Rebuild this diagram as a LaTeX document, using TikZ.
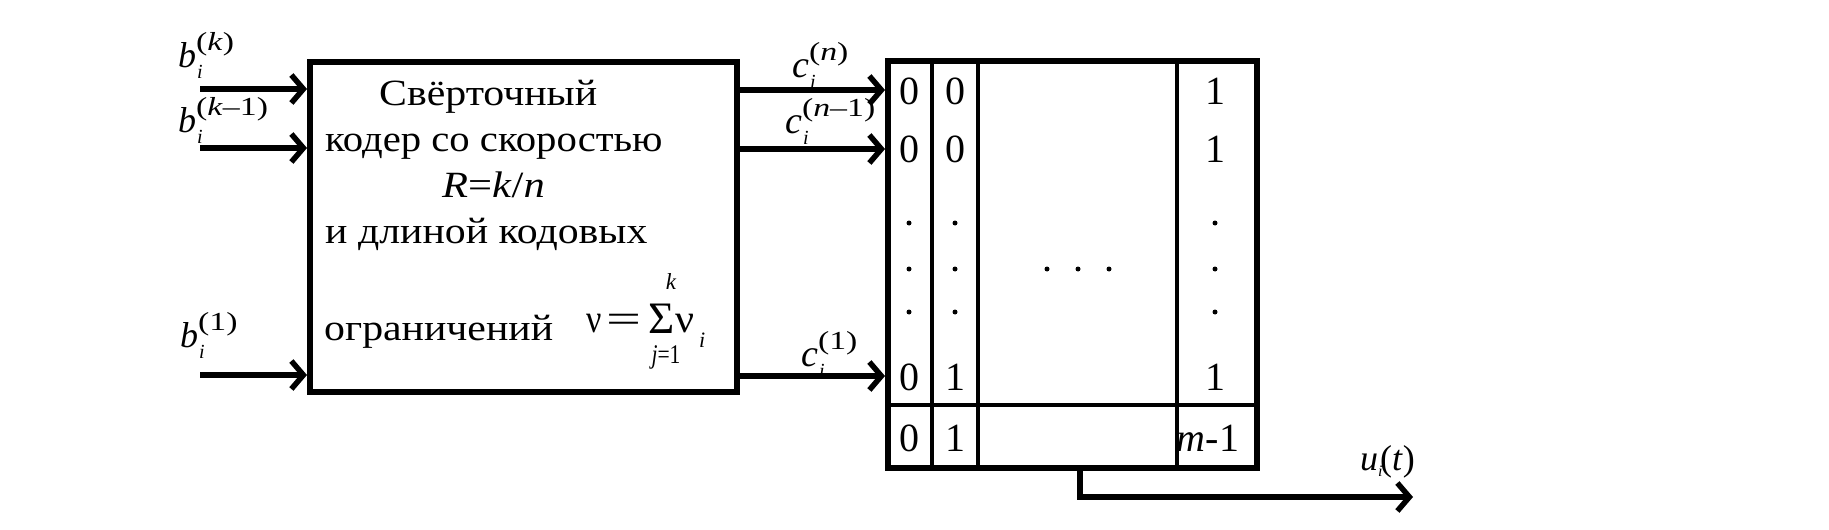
\documentclass[tikz,border=0pt]{standalone}
\usepackage{fontspec}
\setmainfont{Liberation Serif}
\usetikzlibrary{arrows.meta}
\newcommand\Wd[2]{\scalebox{#1}[1]{#2}}
\newcommand\fs[1]{\fontsize{#1}{#1}\selectfont}
\newcommand\lblB[4]{\fs{#1}\textit{#2}\rlap{\raisebox{-11pt}{\fs{20}\hspace{1pt}\textit{i}}}\raisebox{17pt}{\Wd{1.3}{\fs{26}#3}}}
\begin{document}
\begin{tikzpicture}[x=1pt,y=-1pt,
  lab/.style={inner sep=0pt, anchor=base west},
  txt/.style={inner sep=0pt, anchor=base west, font=\fs{37}},
  dig/.style={inner sep=0pt, font=\fs{40}},
  arr/.style={line width=5.5pt, -{Straight Barb[length=12pt,width=28pt,line width=5.5pt]}},
  frame/.style={draw, line width=5.5pt, inner sep=0pt, rectangle},
  grid/.style={line width=4pt}]
\useasboundingbox (0,0) rectangle (1829,530);
\fill[white] (0,0) rectangle (1829,530);

% encoder box
\node[frame, anchor=north west, minimum width=427pt, minimum height=330pt] (enc) at (307,59) {};
% table
\node[frame, anchor=north west, minimum width=369pt, minimum height=407pt] (tab) at (885,58) {};

% input coordinates
\coordinate (bk) at (200,89);
\coordinate (bk1) at (200,148);
\coordinate (b1) at (200,375);
\draw[arr] (bk) -- (bk -| enc.west);
\draw[arr] (bk1) -- (bk1 -| enc.west);
\draw[arr] (b1) -- (b1 -| enc.west);

% outputs
\coordinate (cn) at (734,90);
\coordinate (cn1) at (734,149);
\coordinate (c1) at (734,376);
\draw[arr] (cn) -- (cn -| tab.west);
\draw[arr] (cn1) -- (cn1 -| tab.west);
\draw[arr] (c1) -- (c1 -| tab.west);

% labels
\node[lab] (lbk) at (178,67) {\lblB{36}{b}{(\textit{k})}{}};
\node[lab] (lbk1) at (178,132) {\lblB{36}{b}{(\textit{k}–1)}{}};
\node[lab] (lb1) at (180,347) {\lblB{36}{b}{(1)}{}};
\node[lab] (lcn) at (792,77) {\lblB{38}{c}{(\textit{n})}{}};
\node[lab] (lcn1) at (785,133) {\lblB{38}{c}{(\textit{n}–1)}{}};
\node[lab] (lc1) at (801,366) {\lblB{38}{c}{(1)}{}};

% encoder text
\node[txt] (t1) at (379,105) {\Wd{1.13}{Свёрточный}};
\node[txt] (t2) at (325,151) {\Wd{1.1}{кодер со скоростью}};
\node[txt] (t3) at (442,197) {\Wd{1.15}{\textit{R}=\textit{k}/\textit{n}}};
\node[txt] (t4) at (325,243) {\Wd{1.13}{и длиной кодовых}};
\node[txt] (t5) at (324,340) {\Wd{1.13}{ограничений}};
\node[lab, font=\fs{40}] (nu) at (586,332) {\Wd{0.85}{ν}};
\node[lab, font=\fs{40}] (eq) at (606,332) {\Wd{1.55}{=}};
\node[lab, font=\fs{45}] (sig) at (648,333) {Σ};
\node[inner sep=0pt, font=\fs{23}\itshape] (sk) at (671,282) {k};
\node[inner sep=0pt, font=\fs{27}] (sj) at (666,357) {\Wd{0.8}{\textit{j}=1}};
\node[lab, font=\fs{40}] (nu2) at (675,332) {\Wd{1.05}{ν}};
\node[lab, font=\fs{22}\itshape] (nui) at (699,347) {i};

% table grid
\draw[grid] (932,58) -- (932,465);
\draw[grid] (978,58) -- (978,465);
\draw[grid] (1177,58) -- (1177,465);
\draw[grid] (885,405) -- (1254,405);

% table contents
\foreach \y/\a/\b/\c [count=\r] in {91/0/0/1, 149/0/0/1, 377/0/1/1}{
  \node[dig] (da\r) at (909,\y) {\a};
  \node[dig] (db\r) at (955,\y) {\b};
  \node[dig] (dc\r) at (1215,\y) {\c};
}
\node[dig] (ea) at (909,438) {0};
\node[dig] (eb) at (955,438) {1};
\node[dig] (ec) at (1208,438) {\textit{m}-1};
\foreach \y in {223,269,312}{
  \fill (909,\y) circle (2.5);
  \fill (955,\y) circle (2.5);
  \fill (1215,\y) circle (2.5);
}
\foreach \x in {1047,1078,1109}{ \fill (\x,269) circle (2.5); }

% output
\coordinate (ob) at (1080,465);
\coordinate (oc) at (1080,497);
\coordinate (oe) at (1413,497);
\draw[arr] (ob) -- (oc) -- (oe);
\node[lab, font=\fs{36}] (ut) at (1360,470) {\textit{u}\rlap{\raisebox{-6pt}{\fs{16}\textit{i}}}\hspace{2pt}(\textit{t})};
\end{tikzpicture}
\end{document}
